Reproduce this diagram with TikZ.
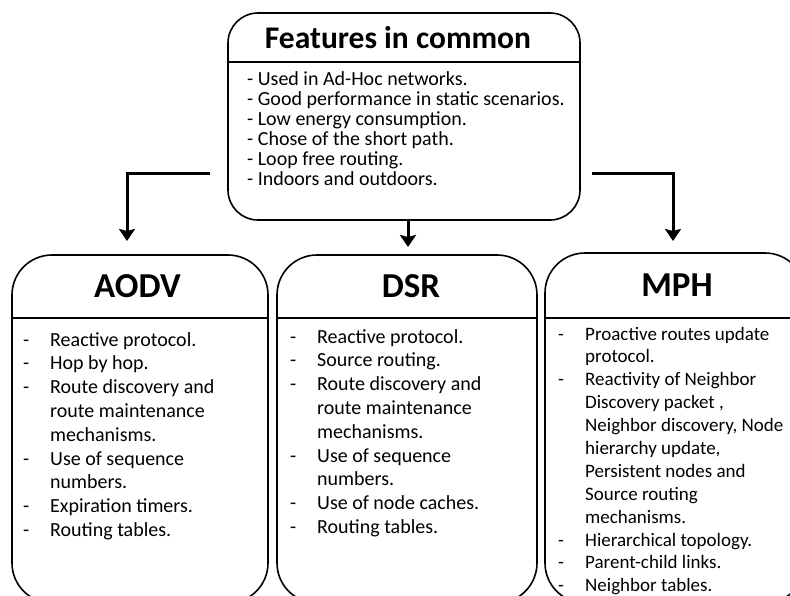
\documentclass[tikz,border=0pt]{standalone}
\usepackage{fontspec}
\setmainfont{Carlito}
\usetikzlibrary{arrows.meta}
\begin{document}
\begin{tikzpicture}[x=1pt,y=-1pt,
  box/.style={draw, line width=1.6pt, rounded corners=#1, inner sep=0pt},
  divider/.style={line width=1.6pt},
  ttl/.style={anchor=base, inner sep=0pt, font=\bfseries\fontsize{35}{40}\selectfont},
  body/.style={anchor=base west, inner sep=0pt, font=\fontsize{20}{23.8}\selectfont},
  mbody/.style={anchor=base west, inner sep=0pt, font=\fontsize{19}{22.9}\selectfont},
  topbody/.style={anchor=base west, inner sep=0pt, font=\fontsize{20}{20}\selectfont},
  arr/.style={line width=3pt, -{Stealth[length=12pt,width=16pt,inset=2pt]}}]
\useasboundingbox (0,0) rectangle (790,596);
\clip (0,0) rectangle (790,596);
% boxes
\node[box=30pt, minimum width=352pt, minimum height=207pt] (top) at (404,116.5) {};
\node[box=40pt, minimum width=256pt, minimum height=348pt] (aodv) at (140,429) {};
\node[box=40pt, minimum width=260pt, minimum height=348pt] (dsr) at (407,429) {};
\node[box=40pt, minimum width=260pt, minimum height=350pt] (mph) at (675,428) {};
% dividers
\draw[divider] (top.west |- 0,62) -- (top.east |- 0,62);
\draw[divider] (aodv.west |- 0,318) -- (aodv.east |- 0,318);
\draw[divider] (dsr.west |- 0,318) -- (dsr.east |- 0,318);
\draw[divider] (mph.west |- 0,318) -- (mph.east |- 0,318);
% titles
\node[ttl, font=\bfseries\fontsize{31.5}{36}\selectfont] (ttop) at (398,49) {Features in common};
\node[ttl] (taodv) at (137.5,297) {AODV};
\node[ttl] (tdsr) at (411,297) {DSR};
\node[ttl] (tmph) at (677,296) {MPH};
% top text
\node[topbody] (btop) at (247,86) {\begin{tabular}[t]{@{}l@{}}
- Used in Ad-Hoc networks.\\
- Good performance in static scenarios.\\
- Low energy consumption.\\
- Chose of the short path.\\
- Loop free routing.\\
- Indoors and outdoors.
\end{tabular}};
% lower texts
\node[body] (baodv) at (23,346) {\begin{tabular}[t]{@{}p{27pt}@{}l@{}}
- & Reactive protocol.\\
- & Hop by hop.\\
- & Route discovery and\\
  & route maintenance\\
  & mechanisms.\\
- & Use of sequence\\
  & numbers.\\
- & Expiration timers.\\
- & Routing tables.
\end{tabular}};
\node[body] (bdsr) at (290,343) {\begin{tabular}[t]{@{}p{27pt}@{}l@{}}
- & Reactive protocol.\\
- & Source routing.\\
- & Route discovery and\\
  & route maintenance\\
  & mechanisms.\\
- & Use of sequence\\
  & numbers.\\
- & Use of node caches.\\
- & Routing tables.
\end{tabular}};
\node[mbody] (bmph) at (558,340) {\begin{tabular}[t]{@{}p{27pt}@{}l@{}}
- & Proactive routes update\\
  & protocol.\\
- & Reactivity of Neighbor\\
  & Discovery packet ,\\
  & Neighbor discovery, Node\\
  & hierarchy update,\\
  & Persistent nodes and\\
  & Source routing\\
  & mechanisms.\\
- & Hierarchical topology.\\
- & Parent-child links.\\
- & Neighbor tables.
\end{tabular}};
% arrows
\coordinate (la) at (210,174);
\coordinate (lb) at (127,241);
\coordinate (ma) at (408,221);
\coordinate (mb) at (408,247);
\coordinate (ra) at (592,174);
\coordinate (rb) at (673,241);
\draw[arr] (la) -| (lb);
\draw[arr] (ma) -- (mb);
\draw[arr] (ra) -| (rb);
\end{tikzpicture}
\end{document}
